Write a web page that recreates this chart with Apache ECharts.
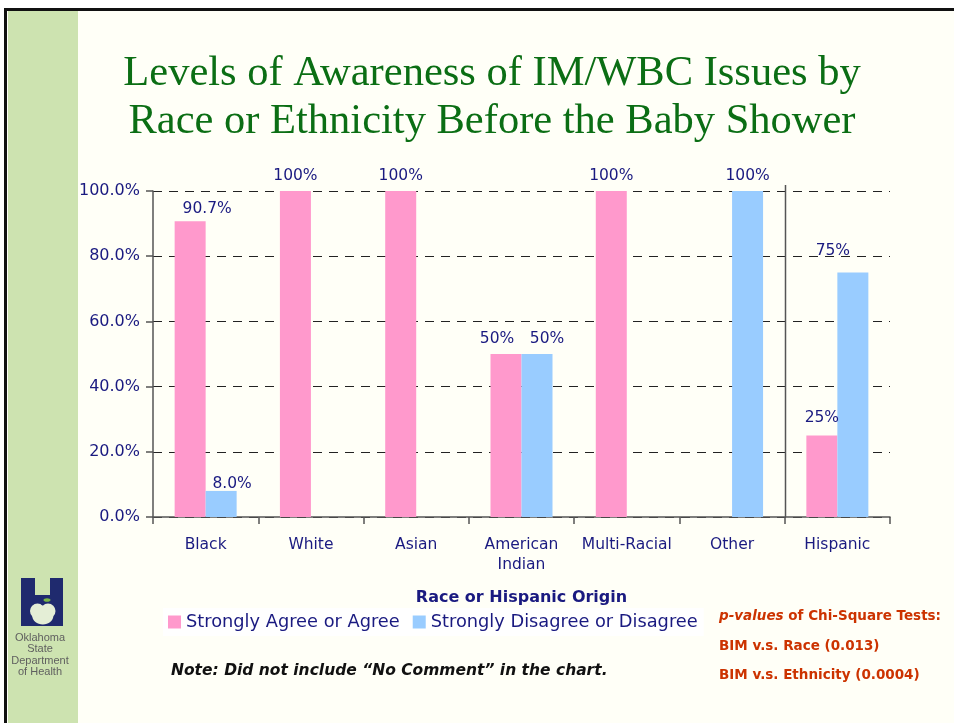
<!DOCTYPE html>
<html><head><meta charset="utf-8">
<script src="https://cdn.jsdelivr.net/npm/echarts@6/dist/echarts.min.js"></script>
<style>html,body{margin:0;padding:0;background:#fff}#c{width:954px;height:723px}</style>
</head><body><div id="c"></div>
<script>
var categories = ['Black', 'White', 'Asian', 'American\nIndian', 'Multi-Racial', 'Other', 'Hispanic'];
var agreeValues = [90.7, 100, 100, 50, 100, null, 25];
var disagreeValues = [8.0, null, null, 50, null, 100, 75];
var agreeLabels = ['90.7%', '100%', '100%', '50%', '100%', '', '25%'];
var disagreeLabels = ['8.0%', '', '', '50%', '', '100%', '75%'];
var yTicks = [0, 20, 40, 60, 80, 100];
var seriesNames = ['Strongly Agree or Agree', 'Strongly Disagree or Disagree'];
var titleLines = ['Levels of Awareness of IM/WBC Issues by', 'Race or Ethnicity Before the Baby Shower'];
var axisName = 'Race or Hispanic Origin';
var noteText = 'Note: Did not include \u201cNo Comment\u201d in the chart.';
var pLines = ['BIM v.s. Race (0.013)', 'BIM v.s. Ethnicity (0.0004)'];

var NAVY = '#1a1a80';
var SANS = '"DejaVu Sans", Verdana, sans-serif';
var chart = echarts.init(document.getElementById('c'), null, {renderer: 'canvas'});

// label nudges (layout only)
var agreeShift = {0: [17, 3], 3: [-9, 0], 6: [0, -3]};
var disagreeShift = {0: [11, 8], 3: [10, 0], 6: [-20, -7]};

function mk(vals, labels, shift) {
  return vals.map(function (v, i) {
    var it = {value: v, label: {formatter: labels[i]}};
    if (shift[i]) it.label.offset = shift[i];
    return it;
  });
}

var option = {
  backgroundColor: '#fff',
  animation: false,
  textStyle: {fontFamily: SANS},
  grid: {left: 153, right: 64, top: 191, bottom: 206},
  legend: {
    left: 163, top: 608,
    data: seriesNames,
    icon: 'rect', itemWidth: 13, itemHeight: 13, itemGap: 13,
    backgroundColor: '#ffffff', padding: [5, 6, 5, 5],
    textStyle: {color: NAVY, fontSize: 17.8, fontFamily: SANS, padding: [0, 0, 0, 0]}
  },
  xAxis: {
    type: 'category', data: categories,
    name: axisName, nameLocation: 'middle', nameGap: 73,
    nameTextStyle: {color: NAVY, fontSize: 16, fontWeight: 'bold', fontFamily: SANS},
    axisLine: {lineStyle: {color: '#555', width: 1.5}},
    axisTick: {show: true, interval: 0, length: 7, lineStyle: {color: '#555', width: 1.5}},
    axisLabel: {color: NAVY, fontSize: 15.5, margin: 18, lineHeight: 20, interval: 0, fontFamily: SANS}
  },
  yAxis: {
    type: 'value', min: 0, max: 100, interval: 20,
    axisLine: {show: true, lineStyle: {color: '#555', width: 1.5}},
    axisTick: {show: true, length: 7, lineStyle: {color: '#555', width: 1.5}},
    axisLabel: {color: NAVY, fontSize: 16, margin: 13, fontFamily: SANS, formatter: function (v) { return v.toFixed(1) + '%'; }},
    splitLine: {show: true, lineStyle: {color: '#222', type: [9, 7], width: 1}}
  },
  series: [
    {
      name: seriesNames[0], type: 'bar', barWidth: 31, barGap: '0%',
      itemStyle: {color: '#ff99cc'},
      label: {show: true, position: 'top', distance: 7, color: NAVY, fontSize: 15.5, fontFamily: SANS},
      data: mk(agreeValues, agreeLabels, agreeShift)
    },
    {
      name: seriesNames[1], type: 'bar', barWidth: 31, barGap: '0%',
      itemStyle: {color: '#99ccff'},
      label: {show: true, position: 'top', distance: 7, color: NAVY, fontSize: 15.5, fontFamily: SANS},
      data: mk(disagreeValues, disagreeLabels, disagreeShift)
    }
  ]
};
chart.setOption(option);

function draw() {
  var x5 = chart.convertToPixel({xAxisIndex: 0}, categories[5]);
  var x6 = chart.convertToPixel({xAxisIndex: 0}, categories[6]);
  var sepX = Math.round((x5 + x6) / 2) + 0.5;
  var y0 = chart.convertToPixel({yAxisIndex: 0}, 0);
  var y100 = chart.convertToPixel({yAxisIndex: 0}, 100);
  var BG = '#cde3b0';
  var AP = '#e4eed6';
  var NV = '#1f2a6e';
  var g = [
    {type: 'rect', z: -10, silent: true, shape: {x: 6, y: 10, width: 948, height: 713}, style: {fill: '#fffff7'}},
    {type: 'rect', z: -9, silent: true, shape: {x: 8, y: 11, width: 70, height: 712}, style: {fill: BG}},
    {type: 'rect', z: -8, silent: true, shape: {x: 4, y: 8, width: 950, height: 3}, style: {fill: '#111'}},
    {type: 'rect', z: -8, silent: true, shape: {x: 4, y: 8, width: 3, height: 715}, style: {fill: '#111'}},
    {type: 'text', x: 492, y: 50, style: {
      text: titleLines.join('\n'), fill: '#0b6e14', font: '42.5px "Liberation Serif", "Times New Roman", serif',
      lineHeight: 48, align: 'center'}},
    {type: 'line', silent: true, shape: {x1: sepX, y1: y100 - 6, x2: sepX, y2: y0}, style: {stroke: '#555', lineWidth: 1.5}},
    // logo
    {type: 'rect', shape: {x: 21, y: 578, width: 14, height: 48}, style: {fill: NV}},
    {type: 'rect', shape: {x: 50, y: 578, width: 13, height: 48}, style: {fill: NV}},
    {type: 'rect', shape: {x: 34, y: 595, width: 17, height: 31}, style: {fill: NV}},
    {type: 'circle', shape: {cx: 37.5, cy: 611, r: 7.5}, style: {fill: AP}},
    {type: 'circle', shape: {cx: 48, cy: 611, r: 7.5}, style: {fill: AP}},
    {type: 'ellipse', shape: {cx: 42.8, cy: 616, rx: 10.5, ry: 8.5}, style: {fill: AP}},
    {type: 'rect', shape: {x: 41.5, y: 598, width: 2, height: 7}, style: {fill: NV}},
    {type: 'ellipse', shape: {cx: 47, cy: 600, rx: 3.5, ry: 1.8}, style: {fill: '#7ab648'}},
    {type: 'text', x: 40, y: 632, style: {
      text: 'Oklahoma\nState\nDepartment\nof Health', fill: '#5f5f5f', align: 'center',
      font: '11px "Liberation Sans", Arial, sans-serif', lineHeight: 11.5}},
    // note
    {type: 'text', x: 171, y: 663, style: {
      text: noteText, fill: '#111', font: 'italic bold 15.5px ' + SANS}},
    // p-values
    {type: 'text', x: 719, y: 609, style: {
      rich: {
        i: {fill: '#cc3300', font: 'italic bold 13.5px ' + SANS},
        b: {fill: '#cc3300', font: 'bold 13.5px ' + SANS}
      },
      text: '{i|p-values}{b| of Chi-Square Tests:}'}},
    {type: 'text', x: 719, y: 639, style: {text: pLines[0], fill: '#cc3300', font: 'bold 13.5px ' + SANS}},
    {type: 'text', x: 719, y: 668, style: {text: pLines[1], fill: '#cc3300', font: 'bold 13.5px ' + SANS}}
  ];
  chart.setOption({graphic: g});
}
draw();
</script>
</body></html>
